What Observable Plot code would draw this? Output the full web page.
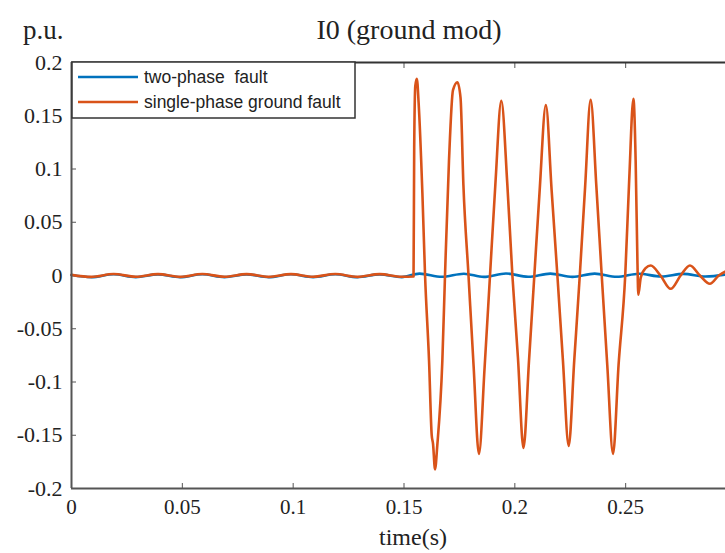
<!DOCTYPE html>
<html>
<head>
<meta charset="utf-8">
<script src="https://cdn.jsdelivr.net/npm/d3@7"></script>
<script src="https://cdn.jsdelivr.net/npm/@observablehq/plot@0.6"></script>
<style>
  body { margin: 0; background: #fff; }
  #chart svg { display: block; }
</style>
</head>
<body>
<div id="chart"></div>
<script>
// ---- data ----
const seriesNames = ["two-phase  fault", "single-phase ground fault"];
const seriesColors = ["#0072BD", "#D95319"];
const titleText = "I0 (ground mod)";
const yUnit = "p.u.";
const xLabel = "time(s)";
const xTicks = [0, 0.05, 0.1, 0.15, 0.2, 0.25];
const yTicks = [-0.2, -0.15, -0.1, -0.05, 0, 0.05, 0.1, 0.15, 0.2];

// two-phase fault (blue)
const blueT = [0, 0.009, 0.019, 0.029, 0.039, 0.049, 0.059, 0.069, 0.079, 0.089, 0.099, 0.109, 0.119, 0.129, 0.139, 0.149,
  0.157, 0.167, 0.177, 0.186, 0.196, 0.206, 0.216, 0.226, 0.236, 0.246, 0.256, 0.266, 0.276, 0.286, 0.296];
const blueV = [0.0004, -0.0016, 0.0012, -0.0015, 0.0011, -0.0016, 0.0012, -0.0015, 0.0011, -0.0016, 0.0012, -0.0015, 0.0012, -0.0016, 0.0011, -0.0015,
  0.0018, -0.0012, 0.0017, -0.0013, 0.0019, -0.0012, 0.0018, -0.0013, 0.0018, -0.0012, 0.0017, -0.0010, 0.0015, -0.0010, 0.0012];

// single-phase ground fault (orange)
const orangeT = [0, 0.009, 0.019, 0.029, 0.039, 0.049, 0.059, 0.069, 0.079, 0.089, 0.099, 0.109, 0.119, 0.129, 0.139, 0.149, 0.1543,
  0.1546, 0.1551, 0.1558, 0.1566, 0.1583, 0.1595, 0.1613, 0.1625, 0.1631, 0.1640, 0.1650, 0.1673, 0.1685, 0.1703, 0.1721, 0.1741,
  0.1755, 0.1768, 0.1791, 0.1814, 0.1838, 0.1864, 0.1888, 0.1912, 0.1939, 0.1966, 0.1989, 0.2014, 0.2039, 0.2064, 0.2088, 0.2112,
  0.2140, 0.2166, 0.2192, 0.2217, 0.2243, 0.2268, 0.2293, 0.2317, 0.2342, 0.2368, 0.2392, 0.2417, 0.2443, 0.2468, 0.2498, 0.2516,
  0.2535, 0.2545, 0.2553, 0.2557, 0.2568, 0.2590, 0.2613, 0.2657, 0.2703, 0.2748, 0.2790, 0.2835, 0.2880, 0.2920, 0.2960];
const orangeV = [0.0006, -0.0013, 0.0014, -0.0012, 0.0013, -0.0013, 0.0014, -0.0012, 0.0013, -0.0013, 0.0013, -0.0012, 0.0014, -0.0013, 0.0013, -0.0012, -0.0010,
  0.120, 0.178, 0.1847, 0.162, 0.077, 0.000, -0.080, -0.150, -0.158, -0.182, -0.160, -0.080, 0.000, 0.108, 0.174, 0.1815,
  0.167, 0.085, 0.000, -0.085, -0.1675, -0.085, 0.000, 0.085, 0.164, 0.086, 0.000, -0.077, -0.162, -0.080, 0.000, 0.080,
  0.160, 0.080, 0.000, -0.080, -0.160, -0.080, 0.000, 0.083, 0.165, 0.083, 0.000, -0.084, -0.1675, -0.084, 0.000, 0.090,
  0.166, 0.108, 0.014, -0.018, -0.002, 0.007, 0.0094, 0.000, -0.0125, 0.000, 0.0094, 0.000, -0.0078, 0.000, 0.0047];

// ---- build tables ----
const blue = blueT.map((t, i) => ({t, v: blueV[i]}));
const orange = orangeT.map((t, i) => ({t, v: orangeV[i]}));
const fmt = d => String(+(+d).toFixed(2));
const axisColor = "#555";
const serif = "'Liberation Serif', 'Times New Roman', serif";

const plot = Plot.plot({
  width: 725,
  height: 553,
  marginTop: 62,
  marginBottom: 65,
  marginLeft: 71,
  marginRight: 0,
  style: {fontFamily: serif, background: "white", overflow: "hidden"},
  x: {domain: [0, 0.3], range: [71, 736]},
  y: {domain: [-0.2, 0.2]},
  marks: [
    Plot.axisX(xTicks, {anchor: "bottom", tickSize: -5, tickPadding: 16, fontSize: 21, tickFormat: fmt, label: null, fill: "#222", stroke: axisColor}),
    Plot.axisX(xTicks, {anchor: "top", tickSize: -5, tickFormat: () => "", label: null, stroke: axisColor}),
    Plot.axisY(yTicks, {anchor: "left", tickSize: -5, tickPadding: 14, fontSize: 22, tickFormat: fmt, label: null, fill: "#222", stroke: axisColor}),
    Plot.line(blue, {x: "t", y: "v", stroke: seriesColors[0], strokeWidth: 2.6, curve: "monotone-x"}),
    Plot.line(orange, {x: "t", y: "v", stroke: seriesColors[1], strokeWidth: 2.6, curve: "monotone-x"}),
    Plot.ruleY([-0.2], {stroke: axisColor, strokeWidth: 2}),
    Plot.ruleY([0.2], {stroke: "#333", strokeWidth: 2}),
    Plot.ruleX([0], {stroke: axisColor, strokeWidth: 2})
  ]
});

const svg = d3.select(plot);
const xs = plot.scale("x"), ys = plot.scale("y");

// title and unit
svg.append("text").attr("x", 409).attr("y", 39).attr("text-anchor", "middle")
  .attr("font-family", serif).attr("font-size", 28).attr("fill", "#222").text(titleText);
svg.append("text").attr("x", 23).attr("y", 39).attr("text-anchor", "start")
  .attr("font-family", serif).attr("font-size", 27).attr("fill", "#222").text(yUnit);
svg.append("text").attr("x", 413).attr("y", 545).attr("text-anchor", "middle")
  .attr("font-family", serif).attr("font-size", 24).attr("fill", "#222").text(xLabel);

// legend in the upper-left corner of the axes
const lx = xs.apply(0), ly = ys.apply(0.2);
const lg = svg.append("g").attr("transform", `translate(${lx + 1},${ly})`);
lg.append("rect").attr("width", 283).attr("height", 56).attr("fill", "white").attr("stroke", "#333").attr("stroke-width", 1.5);
seriesNames.forEach((name, i) => {
  const yy = 15 + i * 25;
  lg.append("line").attr("x1", 6).attr("x2", 66).attr("y1", yy).attr("y2", yy)
    .attr("stroke", seriesColors[i]).attr("stroke-width", 2.6);
  lg.append("text").attr("x", 72).attr("y", yy).attr("dy", "0.35em").attr("text-anchor", "start")
    .attr("font-family", "'Liberation Sans', Arial, sans-serif").attr("font-size", 17.5)
    .attr("fill", "#222").attr("xml:space", "preserve").style("white-space", "pre").text(name);
});

document.getElementById("chart").appendChild(plot);
</script>
</body>
</html>
